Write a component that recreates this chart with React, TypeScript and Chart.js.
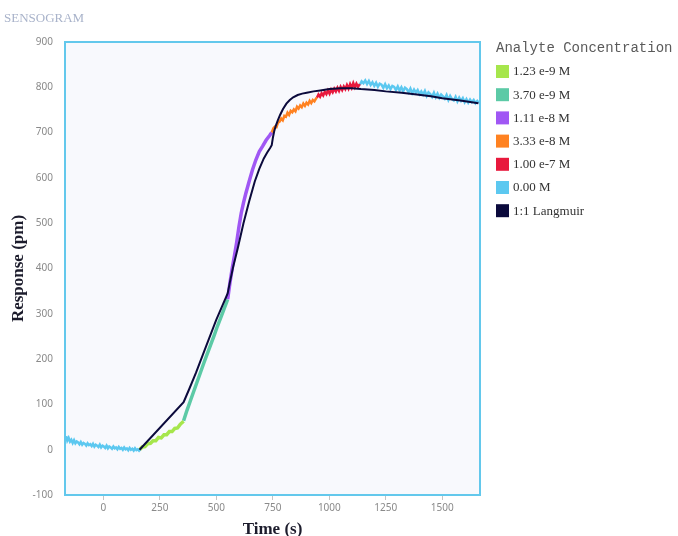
import React, { useEffect, useRef } from "react";
import { Chart, registerables } from "chart.js";

Chart.register(...registerables);

// ---- text ----
const CHART_TITLE = "SENSOGRAM";
const LEGEND_TITLE = "Analyte Concentration";
const X_TITLE = "Time (s)";
const Y_TITLE = "Response (pm)";

// ---- legend entries ----
const legendLabels = ["1.23 e-9 M", "3.70 e-9 M", "1.11 e-8 M", "3.33 e-8 M", "1.00 e-7 M", "0.00 M", "1:1 Langmuir"];
const legendColors = ["#a6e64c", "#5ccaa6", "#a057f4", "#ff8221", "#e8193d", "#5cc8f0", "#0b0a3c"];

// ---- axes ----
const xMin = -170;
const xMax = 1667;
const xStep = 250;
const yMin = -100;
const yMax = 900;
const yStep = 100;

// ---- baseline, 0.00 M ----
const baseT = [-165, -160, -154, -148, -142, -136, -130, -124, -118, -112, -106, -100, -94, -88, -82, -76, -70, -64, -58, -52, -46, -40, -34, -28, -22, -16, -10, -4, 2, 8, 14, 20, 26, 32, 38, 44, 50, 56, 62, 68, 74, 80, 86, 92, 98, 104, 110, 116, 122, 128, 134, 140, 146, 152, 158, 162];
const baseY = [30, 20, 26, 18, 22, 15, 21, 14, 18, 16, 12, 17, 11, 15, 13, 9, 14, 10, 12, 8, 13, 7, 11, 9, 6, 11, 5, 9, 7, 4, 9, 3, 7, 5, 2, 7, 3, 5, 1, 6, 2, 4, 0, 5, 1, 3, -1, 4, 0, 2, -2, 3, -1, 1, -2, 0];

// ---- 1.23 e-9 M ----
const c1T = [160, 172, 184, 196, 208, 220, 232, 244, 256, 268, 280, 292, 304, 316, 328, 340, 355];
const c1Y = [0, 6, 7, 13, 14, 20, 20, 27, 26, 33, 33, 40, 40, 47, 48, 56, 63];

// ---- 3.70 e-9 M ----
const c2T = [355, 370, 385, 400, 415, 430, 445, 460, 475, 490, 505, 520, 535, 550];
const c2Y = [64, 87, 108, 129, 150, 171, 192, 212, 232, 252, 273, 292, 312, 332];

// ---- 1.11 e-8 M ----
const c3T = [550, 560, 570, 580, 590, 600, 610, 620, 630, 645, 660, 675, 690, 705, 720, 735, 745];
const c3Y = [332, 368, 400, 428, 458, 492, 522, 545, 565, 592, 618, 640, 658, 670, 683, 693, 700];

// ---- 3.33 e-8 M ----
const c4T = [745, 752, 759, 766, 773, 780, 787, 794, 801, 808, 815, 822, 829, 836, 843, 850, 857, 864, 871, 878, 885, 892, 899, 906, 913, 920, 927, 934, 941, 945];
const c4Y = [700, 709, 713, 712, 722, 724, 731, 727, 737, 735, 744, 739, 748, 745, 751, 747, 757, 753, 760, 756, 764, 759, 766, 762, 770, 765, 772, 769, 775, 777];

// ---- 1.00 e-7 M ----
const c5T = [945, 952, 959, 966, 973, 980, 987, 994, 1001, 1008, 1015, 1022, 1029, 1036, 1043, 1050, 1057, 1064, 1071, 1078, 1085, 1092, 1099, 1106, 1113, 1120, 1127, 1135];
const c5Y = [777, 784, 779, 787, 782, 790, 785, 793, 786, 795, 789, 797, 791, 799, 792, 801, 794, 802, 796, 805, 797, 807, 799, 809, 800, 808, 801, 807];

// ---- dissociation, 0.00 M ----
const dissT = [1135, 1143, 1151, 1159, 1167, 1175, 1183, 1191, 1199, 1207, 1215, 1223, 1231, 1239, 1247, 1255, 1263, 1271, 1279, 1287, 1295, 1303, 1311, 1319, 1327, 1335, 1343, 1351, 1359, 1367, 1375, 1383, 1391, 1399, 1407, 1415, 1423, 1431, 1439, 1447, 1455, 1463, 1471, 1479, 1487, 1495, 1503, 1511, 1519, 1527, 1535, 1543, 1551, 1559, 1567, 1575, 1583, 1591, 1599, 1607, 1615, 1623, 1631, 1639, 1647, 1655, 1662];
const dissY = [805, 813, 809, 815, 807, 814, 805, 811, 803, 810, 801, 808, 806, 799, 807, 798, 804, 796, 803, 801, 794, 802, 793, 800, 791, 799, 796, 789, 797, 787, 795, 788, 794, 785, 791, 784, 792, 781, 789, 785, 779, 788, 778, 786, 777, 784, 780, 775, 783, 772, 781, 774, 771, 779, 769, 777, 770, 776, 767, 774, 766, 773, 767, 772, 765, 770, 766];

// ---- 1:1 Langmuir fit ----
const fitT = [160, 355, 362, 380, 410, 448, 499, 530, 550, 560, 575, 595, 620, 645, 670, 690, 710, 725, 738, 745, 750, 756, 763, 772, 782, 795, 810, 825, 840, 860, 880, 900, 930, 960, 1000, 1050, 1100, 1140, 1200, 1250, 1320, 1387, 1450, 1500, 1580, 1660];
const fitY = [0, 105, 113, 134, 170, 220, 286, 322, 345, 370, 405, 445, 500, 548, 592, 620, 643, 656, 666, 672, 688, 703, 715, 727, 739, 752, 764, 772, 778, 783, 786, 788, 791, 793, 796, 798, 798, 796, 794, 791, 788, 784, 780, 776, 771, 765];

const PLOT_BG = "#f8f9fd";
const PLOT_BORDER = "#63c8ec";

function pts(t: number[], y: number[]) {
  return t.map((v, i) => ({ x: v, y: y[i] }));
}

const decorPlugin = {
  id: "decor",
  beforeDraw(chart: any) {
    const { ctx, chartArea } = chart;
    ctx.save();
    ctx.fillStyle = "#ffffff";
    ctx.fillRect(0, 0, chart.width, chart.height);
    ctx.fillStyle = PLOT_BG;
    ctx.fillRect(chartArea.left, chartArea.top, chartArea.right - chartArea.left, chartArea.bottom - chartArea.top);
    ctx.restore();
  },
  afterDraw(chart: any) {
    const { ctx, chartArea } = chart;
    ctx.save();
    // plot frame
    ctx.strokeStyle = PLOT_BORDER;
    ctx.lineWidth = 2;
    ctx.strokeRect(chartArea.left, chartArea.top, chartArea.right - chartArea.left, chartArea.bottom - chartArea.top);
    // title
    ctx.font = "13px 'Liberation Serif', 'Times New Roman', serif";
    ctx.fillStyle = "#a9b3ca";
    ctx.textBaseline = "middle";
    ctx.textAlign = "left";
    ctx.fillText(CHART_TITLE, 4, 19);
    // legend
    const lx = chartArea.right + 16;
    ctx.font = "14px 'Liberation Mono', 'Courier New', monospace";
    ctx.fillStyle = "#5a5a5a";
    ctx.fillText(LEGEND_TITLE, lx, 48);
    ctx.font = "13px 'Liberation Serif', 'Times New Roman', serif";
    legendLabels.forEach((label, i) => {
      const cy = 71.5 + i * 23.2;
      ctx.fillStyle = legendColors[i];
      ctx.fillRect(lx, cy - 6.5, 13, 13);
      ctx.fillStyle = "#333333";
      ctx.fillText(label, lx + 17, cy + 0.5);
    });
    ctx.restore();
  },
};

export default function App() {
  const ref = useRef<HTMLCanvasElement | null>(null);

  useEffect(() => {
    if (!ref.current) return;
    const mk = (t: number[], y: number[], color: string, width: number, label: string) => ({
      label,
      data: pts(t, y),
      borderColor: color,
      backgroundColor: color,
      borderWidth: width,
      pointRadius: 0,
      tension: 0,
      order: 1,
    });
    const chart = new Chart(ref.current, {
      type: "line",
      data: {
        datasets: [
          mk(baseT, baseY, legendColors[5], 2.5, legendLabels[5]),
          mk(c1T, c1Y, legendColors[0], 3.5, legendLabels[0]),
          mk(c2T, c2Y, legendColors[1], 3.5, legendLabels[1]),
          mk(c3T, c3Y, legendColors[2], 3.5, legendLabels[2]),
          mk(c4T, c4Y, legendColors[3], 2.5, legendLabels[3]),
          mk(c5T, c5Y, legendColors[4], 2.5, legendLabels[4]),
          mk(dissT, dissY, legendColors[5], 2.5, legendLabels[5]),
          {
            label: legendLabels[6],
            data: pts(fitT, fitY),
            borderColor: legendColors[6],
            backgroundColor: legendColors[6],
            borderWidth: 2,
            pointRadius: 0,
            tension: 0,
            order: 0,
          } as any,
        ],
      },
      options: {
        animation: false,
        responsive: false,
        maintainAspectRatio: false,
        layout: { padding: { top: 42, right: 198, left: 0, bottom: 0 } },
        plugins: {
          legend: { display: false },
          title: { display: false },
          tooltip: { enabled: false },
        },
        scales: {
          x: {
            type: "linear",
            min: xMin,
            max: xMax,
            afterFit: (s: any) => {
              s.height = 41;
            },
            ticks: {
              stepSize: xStep,
              includeBounds: false,
              color: "#8a8a8a",
              padding: 2,
              maxRotation: 0,
              callback: (v: any) => String(v),
              font: { family: "'Noto Sans', sans-serif", size: 10 },
            },
            grid: { display: true, drawOnChartArea: false, drawTicks: true, tickLength: 5, color: "#c4c4c4" },
            border: { display: false },
            title: {
              display: true,
              text: X_TITLE,
              color: "#1c1c2c",
              padding: { top: 0, bottom: 0 },
              font: { family: "'Liberation Serif', 'Times New Roman', serif", size: 17, weight: "bold", lineHeight: 0.7 },
            },
          },
          y: {
            type: "linear",
            min: yMin,
            max: yMax,
            afterFit: (s: any) => {
              s.width = 65;
            },
            ticks: {
              stepSize: yStep,
              color: "#8a8a8a",
              padding: 12,
              callback: (v: any) => String(v),
              font: { family: "'Noto Sans', sans-serif", size: 10 },
            },
            grid: { display: false, drawTicks: false, tickLength: 0 },
            border: { display: false },
            title: {
              display: true,
              text: Y_TITLE,
              color: "#1c1c2c",
              padding: { top: 8, bottom: 0 },
              font: { family: "'Liberation Serif', 'Times New Roman', serif", size: 17, weight: "bold", lineHeight: 1.2 },
            },
          },
        },
      },
      plugins: [decorPlugin],
    });
    return () => chart.destroy();
  }, []);

  return (
    <div style={{ position: "fixed", left: 0, top: 0, width: 678, height: 536, background: "#ffffff" }}>
      <canvas ref={ref} width={678} height={536} style={{ display: "block", width: 678, height: 536 }} />
    </div>
  );
}
